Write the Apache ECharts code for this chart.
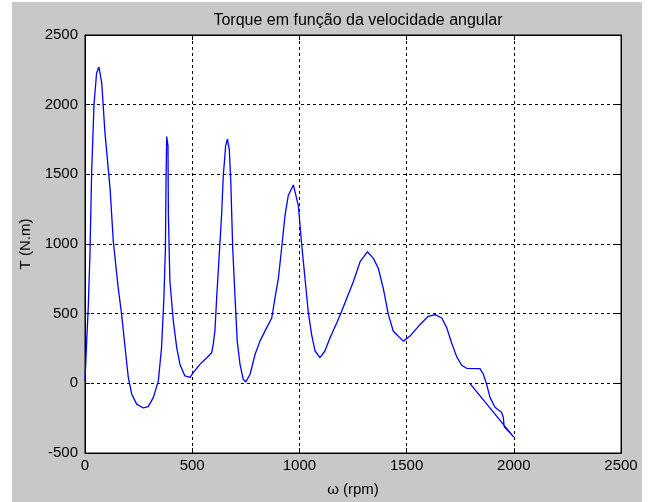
<!DOCTYPE html>
<html>
<head>
<meta charset="utf-8">
<script src="https://cdn.jsdelivr.net/npm/echarts@6/dist/echarts.min.js"></script>
<style>
  html, body { margin: 0; padding: 0; background: #ffffff; }
  #chart { width: 648px; height: 502px; }
</style>
</head>
<body>
<div id="chart"></div>
<script>
// Angular speed (rpm) and torque (N.m) along the traced curve
const omega = [0, 8, 15, 23, 31, 42, 54, 65, 78, 93, 117, 132, 155, 171, 187, 202, 218, 241, 272, 295,
  319, 342, 357, 368, 375, 378, 381, 387, 389, 396, 412, 428, 443, 466, 490, 505, 536, 568, 591, 598,
  606, 614, 626, 637, 645, 656, 664, 673, 680, 689, 700, 710, 723, 738, 750, 770, 793, 816, 847, 871,
  886, 902, 917, 933, 948, 972, 995, 1011, 1026, 1041, 1057, 1073, 1096, 1119, 1143, 1174, 1197, 1221, 1252, 1283,
  1317, 1345, 1368, 1391, 1415, 1438, 1485, 1516, 1562, 1601, 1633, 1664, 1687, 1710, 1734, 1757, 1780, 1842, 1858, 1873,
  1889, 1912, 1943, 1951, 1955, 2000, 1796];
const torque = [20, 305, 540, 920, 1517, 2001, 2227, 2270, 2156, 1801, 1396, 1018, 683, 493, 255, 42, -78, -149, -177, -167,
  -101, 18, 255, 611, 968, 1445, 1771, 1704, 1205, 733, 447, 255, 136, 53, 42, 77, 136, 184, 220, 279,
  376, 611, 920, 1205, 1490, 1704, 1752, 1680, 1445, 968, 611, 303, 136, 29, 10, 65, 207, 303, 398, 469,
  611, 754, 968, 1205, 1348, 1424, 1276, 991, 754, 517, 350, 232, 184, 232, 327, 433, 517, 611, 731, 873,
  944, 897, 826, 683, 493, 374, 303, 339, 421, 481, 493, 469, 400, 290, 190, 130, 108, 106, 65, -6,
  -101, -172, -208, -243, -310, -386, -2];

const xTicks = [0, 500, 1000, 1500, 2000, 2500];
const yTicks = [-500, 0, 500, 1000, 1500, 2000, 2500];

const points = omega.map((w, i) => [w, torque[i]]);

const FONT = 'Liberation Sans';
const plain = v => String(v);
const gridLine = { show: true, lineStyle: { color: '#000000', width: 1, type: [3, 3] } };
const inTick = { show: true, inside: true, length: 5, lineStyle: { color: '#000000' } };
const boxLine = { show: true, onZero: false, lineStyle: { color: '#000000' } };

const chart = echarts.init(document.getElementById('chart'), null, { renderer: 'canvas' });
chart.setOption({
  backgroundColor: '#ffffff',
  animation: false,
  graphic: [{
    type: 'rect', z: -10, silent: true,
    shape: { x: 12, y: 2, width: 630, height: 500 },
    style: { fill: '#c8c8c8' }
  }],
  title: {
    text: 'Torque em função da velocidade angular',
    left: 353, top: 8, textAlign: 'center',
    textStyle: { fontFamily: FONT, fontSize: 16, fontWeight: 'normal', color: '#000000' }
  },
  grid: {
    left: 85, right: 27, top: 35, bottom: 46,
    show: true, backgroundColor: '#ffffff', borderColor: '#000000', borderWidth: 1
  },
  xAxis: [{
    type: 'value', min: xTicks[0], max: xTicks[xTicks.length - 1], interval: 500,
    name: 'ω (rpm)', nameLocation: 'middle', nameGap: 29,
    nameTextStyle: { fontFamily: FONT, fontSize: 15, color: '#000000' },
    axisLine: boxLine,
    axisTick: inTick,
    axisLabel: { fontFamily: FONT, fontSize: 15, color: '#000000', margin: 5, formatter: plain },
    splitLine: gridLine
  }, {
    type: 'value', position: 'top', min: xTicks[0], max: xTicks[xTicks.length - 1], interval: 500,
    axisLine: boxLine,
    axisTick: inTick, axisLabel: { show: false }, splitLine: { show: false }
  }],
  yAxis: [{
    type: 'value', min: yTicks[0], max: yTicks[yTicks.length - 1], interval: 500,
    name: 'T (N.m)', nameLocation: 'middle', nameGap: 41, nameRotate: 90,
    nameTextStyle: { fontFamily: FONT, fontSize: 15, color: '#000000' },
    axisLine: boxLine,
    axisTick: inTick,
    axisLabel: { fontFamily: FONT, fontSize: 15, color: '#000000', margin: 7, formatter: plain },
    splitLine: gridLine
  }, {
    type: 'value', position: 'right', min: yTicks[0], max: yTicks[yTicks.length - 1], interval: 500,
    axisLine: boxLine,
    axisTick: inTick, axisLabel: { show: false }, splitLine: { show: false }
  }],
  series: [{
    type: 'line',
    data: points,
    xAxisIndex: 0, yAxisIndex: 0,
    showSymbol: false,
    smooth: false,
    lineStyle: { color: '#0000ff', width: 1.3 },
    z: 5
  }]
});
</script>
</body>
</html>
